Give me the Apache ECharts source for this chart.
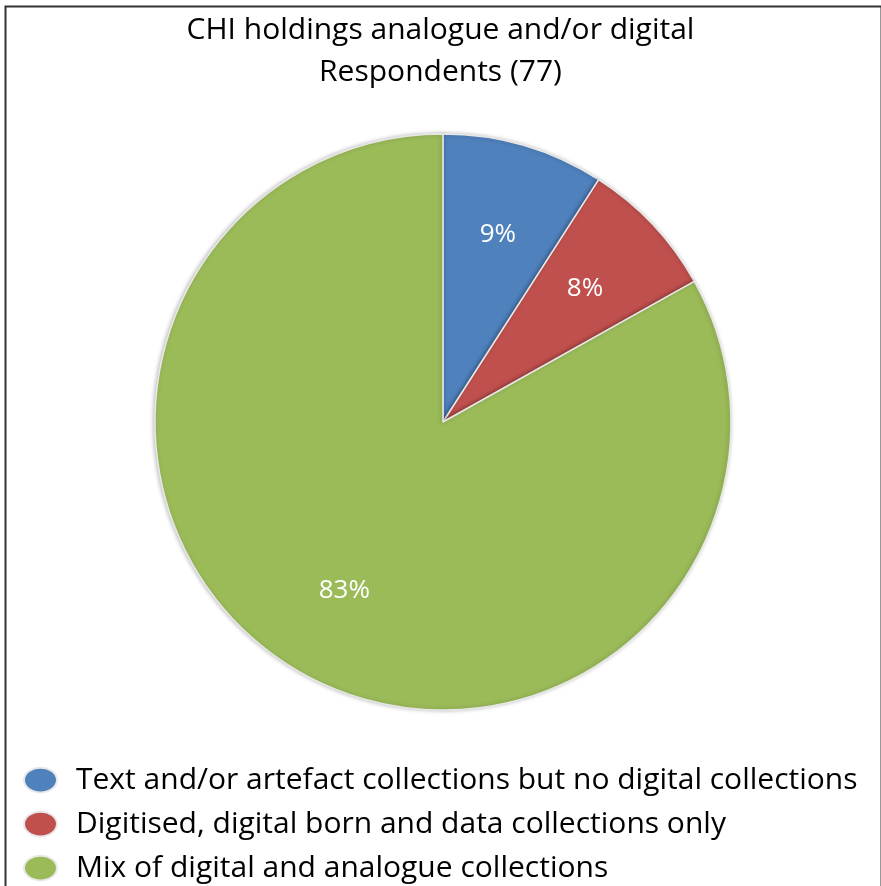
<!DOCTYPE html>
<html>
<head>
<meta charset="utf-8">
<script src="https://cdn.jsdelivr.net/npm/echarts@6/dist/echarts.min.js"></script>
<style>
  html, body { margin: 0; padding: 0; background: #fff; }
  #chart { width: 881px; height: 886px; }
</style>
</head>
<body>
<div id="chart"></div>
<script>
// data
const titleLines = ["CHI holdings analogue and/or digital", "Respondents (77)"];
const categories = [
  "Text and/or artefact collections but no digital collections",
  "Digitised, digital born and data collections only",
  "Mix of digital and analogue collections"
];
const counts = [7, 6, 64];
const colors = ["#4F81BD", "#C0504D", "#9BBB59"];

const FONT = "'Open Sans', Lato, sans-serif";
const seriesData = categories.map((name, i) => ({
  name: name,
  value: counts[i],
  itemStyle: { color: colors[i] }
}));

const chart = echarts.init(document.getElementById("chart"));

const option = {
  animation: false,
  title: {
    text: titleLines.join("\n"),
    left: "center",
    top: 4,
    textStyle: {
      fontFamily: FONT,
      fontSize: 30,
      fontWeight: "normal",
      color: "#000",
      lineHeight: 42
    }
  },
  legend: {
    orient: "vertical",
    left: 23,
    top: 765,
    padding: 0,
    itemWidth: 33,
    itemHeight: 25,
    itemGap: 14,
    icon: "path://M0,12a16,12 0 1,0 32,0a16,12 0 1,0 -32,0",
    data: categories,
    textStyle: {
      fontFamily: FONT,
      fontSize: 30,
      color: "#000",
      lineHeight: 30,
      padding: [0, 0, 0, 14]
    }
  },
  graphic: [
    {
      type: "rect",
      left: 3,
      top: 4,
      shape: { width: 876, height: 920 },
      style: { fill: "none", stroke: "#333", lineWidth: 2 },
      silent: true
    }
  ],
  series: [
    {
      name: "holdings",
      type: "pie",
      center: [443, 422],
      radius: 288,
      startAngle: 90,
      clockwise: true,
      label: { show: false },
      labelLine: { show: false },
      itemStyle: {
        borderColor: "#e8e8e8",
        borderWidth: 1.5,
        shadowColor: "rgba(0,0,0,0.25)",
        shadowBlur: 4,
        shadowOffsetX: -1
      },
      data: seriesData
    },
    {
      // label layer only
      name: "labels",
      type: "pie",
      center: [443, 422],
      radius: [96, 288],
      startAngle: 90,
      clockwise: true,
      silent: true,
      legendHoverLink: false,
      itemStyle: { color: "rgba(0,0,0,0)" },
      label: {
        show: true,
        position: "inside",
        formatter: p => Math.round(p.percent) + "%",
        fontFamily: FONT,
        fontSize: 26,
        color: "#fff"
      },
      labelLine: { show: false },
      data: categories.map((name, i) => ({ name: name, value: counts[i] }))
    }
  ]
};

chart.setOption(option);
</script>
</body>
</html>
